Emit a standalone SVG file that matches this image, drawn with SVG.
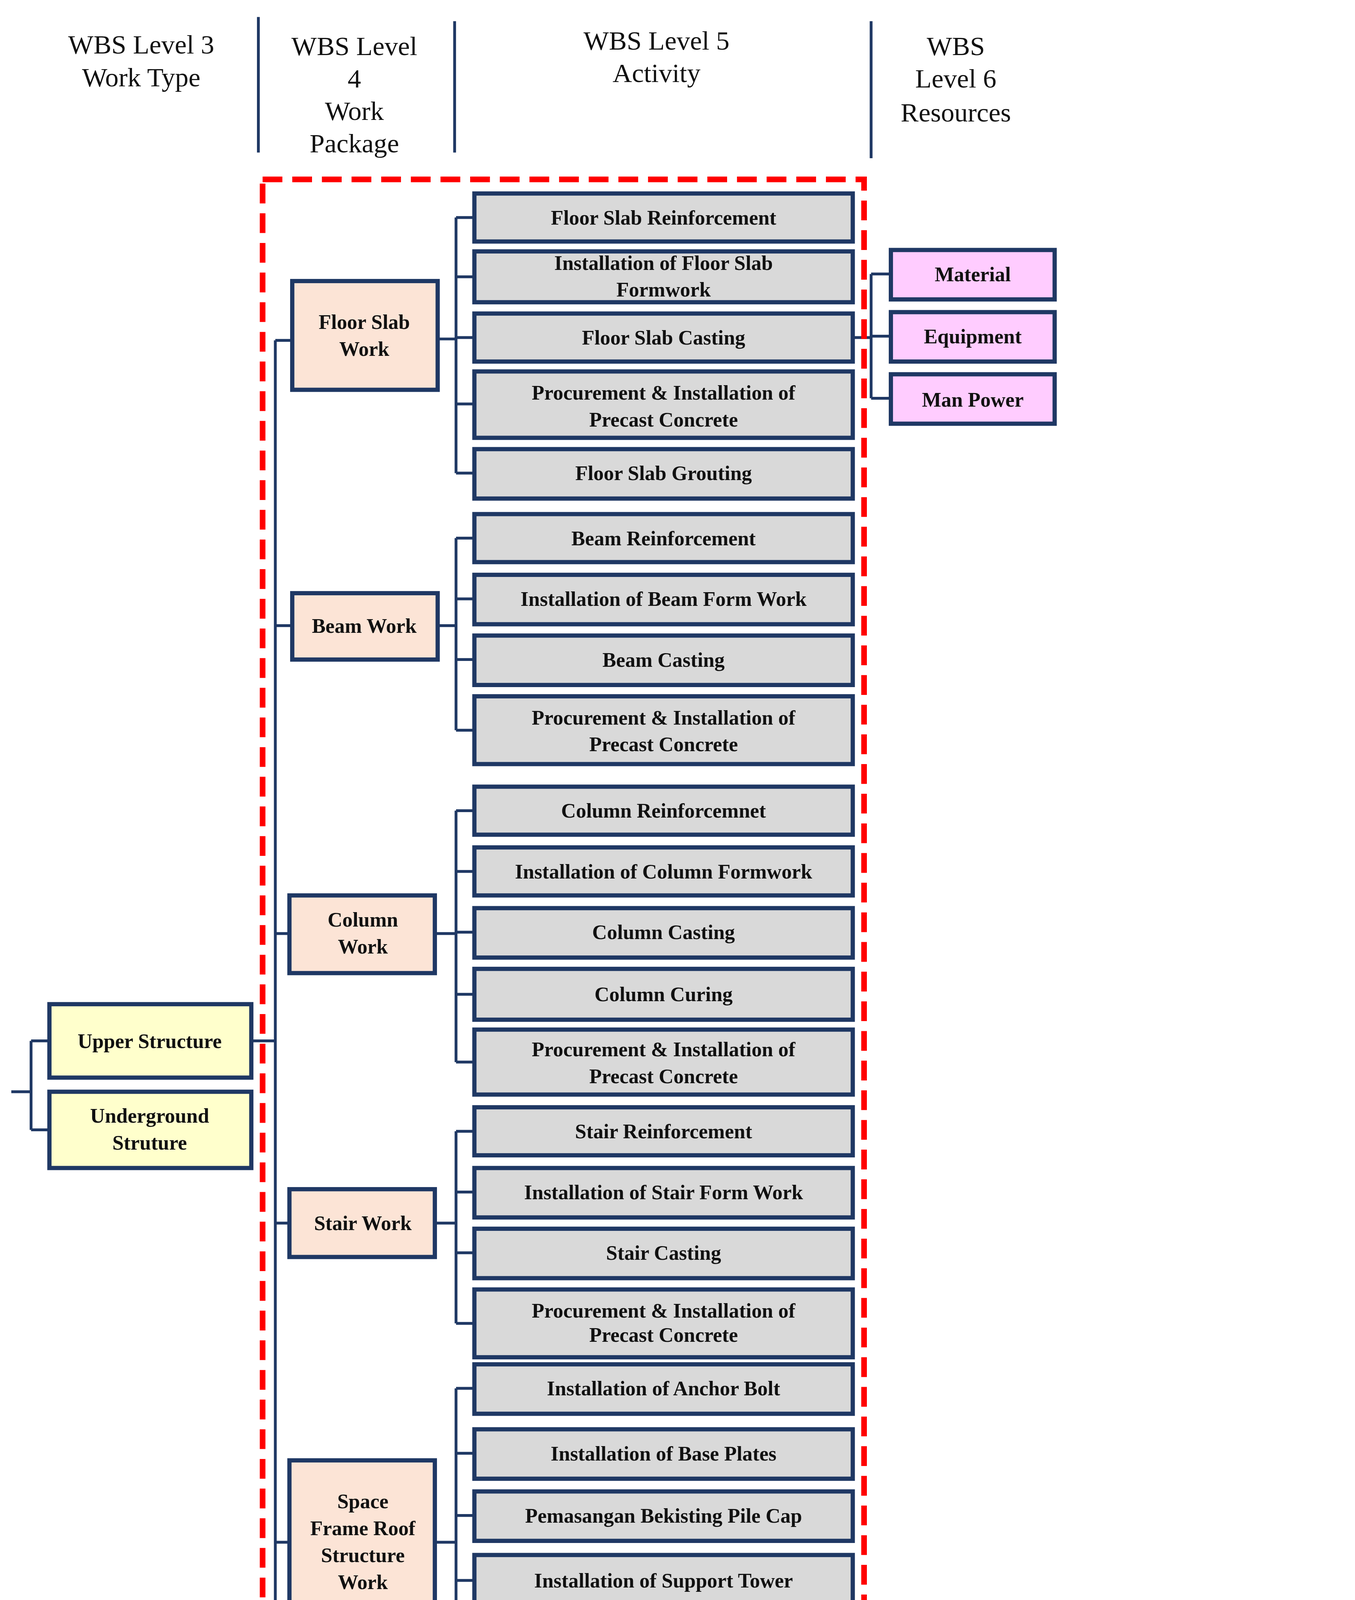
<svg xmlns="http://www.w3.org/2000/svg" width="3470" height="5662" viewBox="0 0 3470 5662">
<defs>
<style>
text{font-family:"Liberation Serif","DejaVu Serif",serif;font-weight:bold;fill:#111;text-anchor:middle}
.h{font-size:19px;font-weight:normal}
.t{font-size:14.5px}
.lg{font-size:13.5px;text-anchor:start}
.b{stroke:#1f3864;stroke-width:3}
.l3{fill:#ffffcc}.l4{fill:#fce4d6}.l5{fill:#d9d9d9}.l6{fill:#ffccff}
.c{fill:none;stroke:#1f3864;stroke-width:2}
.red{fill:none;stroke:#ff0000;stroke-width:4;stroke-dasharray:14 7}
</style>
<marker id="ar" viewBox="0 0 10 10" refX="5" refY="5" markerWidth="4" markerHeight="4" orient="auto"><path d="M0,0L10,5L0,10z" fill="#c55a11"/></marker>
</defs>
<rect width="3470" height="5662" fill="#fff"/>
<g transform="scale(3.6156)">
<g id="headers">
<path d="M183,12V108M322,15V108M617,15V112" class="c"/>
<text class="h" x="100" y="38">WBS Level 3</text><text class="h" x="100" y="61">Work Type</text>
<text class="h" x="251" y="39">WBS Level</text><text class="h" x="251" y="62">4</text><text class="h" x="251" y="85">Work</text><text class="h" x="251" y="108">Package</text>
<text class="h" x="465" y="35">WBS Level 5</text><text class="h" x="465" y="58">Activity</text>
<text class="h" x="677" y="39">WBS</text><text class="h" x="677" y="62">Level 6</text><text class="h" x="677" y="86">Resources</text>
</g>
<g id="connectors">
<path class="c" d="M8,773H22M22,737V800M22,737H35M22,800H35M178,737H195M195,241V1293M195,241H207M195,443H207M195,661H205M195,866H205M195,1092H205M195,1293H205"/>
<path class="c" d="M310,240H323M323,154V335M323,154H336M323,196H336M323,239H336M323,286H336M323,335H336"/>
<path class="c" d="M310,443H323M323,381V517M323,381H336M323,424H336M323,467H336M323,517H336"/>
<path class="c" d="M308,661H323M323,574V752M323,574H336M323,617H336M323,660H336M323,704H336M323,752H336"/>
<path class="c" d="M308,866H323M323,801V937M323,801H336M323,844H336M323,887H336M323,937H336"/>
<path class="c" d="M308,1092H323M323,983V1205M323,983H336M323,1029H336M323,1073H336M323,1119H336M323,1162H336M323,1205H336"/>
<path class="c" d="M308,1293H323M323,1247V1390M323,1247H336M323,1293H336M323,1340H336M323,1390H336"/>
<path class="c" d="M604,239H617M617,194V282M617,194H631M617,238H631M617,282H631"/>
<path d="M315,1432V1392" fill="none" stroke="#c55a11" stroke-width="2" stroke-dasharray="5 3" marker-end="url(#ar)"/>
</g>
<rect id="wbs-development-area" class="red" x="186" y="127" width="426" height="1420"/>
<g id="l3-upper"><rect class="b l3" x="35" y="711" width="143" height="52"/><text class="t" x="106" y="742">Upper Structure</text></g>
<g id="l3-under"><rect class="b l3" x="35" y="773" width="143" height="54"/><text class="t" x="106" y="795">Underground</text><text class="t" x="106" y="814">Struture</text></g>
<g id="l4-floor"><rect class="b l4" x="207" y="199" width="103" height="77"/><text class="t" x="258" y="233">Floor Slab</text><text class="t" x="258" y="252">Work</text></g>
<g id="l4-beam"><rect class="b l4" x="207" y="420" width="103" height="47"/><text class="t" x="258" y="448">Beam Work</text></g>
<g id="l4-column"><rect class="b l4" x="205" y="634" width="103" height="55"/><text class="t" x="257" y="656">Column</text><text class="t" x="257" y="675">Work</text></g>
<g id="l4-stair"><rect class="b l4" x="205" y="842" width="103" height="48"/><text class="t" x="257" y="871">Stair Work</text></g>
<g id="l4-space"><rect class="b l4" x="205" y="1034" width="103" height="118"/><text class="t" x="257" y="1068">Space</text><text class="t" x="257" y="1087">Frame Roof</text><text class="t" x="257" y="1106">Structure</text><text class="t" x="257" y="1125">Work</text></g>
<g id="l4-roof"><rect class="b l4" x="205" y="1252" width="103" height="83"/><text class="t" x="257" y="1279">Roof</text><text class="t" x="257" y="1298">Covering</text><text class="t" x="257" y="1317">Work</text></g>
<g id="l5">
<g id="a1"><rect class="b l5" x="336" y="137" width="268" height="34"/><text class="t" x="470" y="159">Floor Slab Reinforcement</text></g>
<g id="a2"><rect class="b l5" x="336" y="178" width="268" height="36"/><text class="t" x="470" y="191">Installation of Floor Slab</text><text class="t" x="470" y="210">Formwork</text></g>
<g id="a3"><rect class="b l5" x="336" y="222" width="268" height="34"/><text class="t" x="470" y="244">Floor Slab Casting</text></g>
<g id="a4"><rect class="b l5" x="336" y="263" width="268" height="47"/><text class="t" x="470" y="283">Procurement &amp; Installation of</text><text class="t" x="470" y="302">Precast Concrete</text></g>
<g id="a5"><rect class="b l5" x="336" y="318" width="268" height="35"/><text class="t" x="470" y="340">Floor Slab Grouting</text></g>
<g id="b1"><rect class="b l5" x="336" y="364" width="268" height="34"/><text class="t" x="470" y="386">Beam Reinforcement</text></g>
<g id="b2"><rect class="b l5" x="336" y="407" width="268" height="35"/><text class="t" x="470" y="429">Installation of Beam Form Work</text></g>
<g id="b3"><rect class="b l5" x="336" y="450" width="268" height="35"/><text class="t" x="470" y="472">Beam Casting</text></g>
<g id="b4"><rect class="b l5" x="336" y="493" width="268" height="48"/><text class="t" x="470" y="513">Procurement &amp; Installation of</text><text class="t" x="470" y="532">Precast Concrete</text></g>
<g id="c1"><rect class="b l5" x="336" y="557" width="268" height="34"/><text class="t" x="470" y="579">Column Reinforcemnet</text></g>
<g id="c2"><rect class="b l5" x="336" y="600" width="268" height="34"/><text class="t" x="470" y="622">Installation of Column Formwork</text></g>
<g id="c3"><rect class="b l5" x="336" y="643" width="268" height="35"/><text class="t" x="470" y="665">Column Casting</text></g>
<g id="c4"><rect class="b l5" x="336" y="686" width="268" height="36"/><text class="t" x="470" y="709">Column Curing</text></g>
<g id="c5"><rect class="b l5" x="336" y="729" width="268" height="46"/><text class="t" x="470" y="748">Procurement &amp; Installation of</text><text class="t" x="470" y="767">Precast Concrete</text></g>
<g id="s1"><rect class="b l5" x="336" y="784" width="268" height="34"/><text class="t" x="470" y="806">Stair Reinforcement</text></g>
<g id="s2"><rect class="b l5" x="336" y="827" width="268" height="35"/><text class="t" x="470" y="849">Installation of Stair Form Work</text></g>
<g id="s3"><rect class="b l5" x="336" y="870" width="268" height="35"/><text class="t" x="470" y="892">Stair Casting</text></g>
<g id="s4"><rect class="b l5" x="336" y="913" width="268" height="48"/><text class="t" x="470" y="933">Procurement &amp; Installation of</text><text class="t" x="470" y="950">Precast Concrete</text></g>
<g id="f1"><rect class="b l5" x="336" y="966" width="268" height="35"/><text class="t" x="470" y="988">Installation of Anchor Bolt</text></g>
<g id="f2"><rect class="b l5" x="336" y="1012" width="268" height="35"/><text class="t" x="470" y="1034">Installation of Base Plates</text></g>
<g id="f3"><rect class="b l5" x="336" y="1056" width="268" height="35"/><text class="t" x="470" y="1078">Pemasangan Bekisting Pile Cap</text></g>
<g id="f4"><rect class="b l5" x="336" y="1101" width="268" height="36"/><text class="t" x="470" y="1124">Installation of Support Tower</text></g>
<g id="f5"><rect class="b l5" x="336" y="1145" width="268" height="35"/><text class="t" x="470" y="1167">Assembling of The Space Frame</text></g>
<g id="f6"><rect class="b l5" x="336" y="1188" width="268" height="35"/><text class="t" x="470" y="1210">Erection of The Space Frame</text></g>
<g id="r1"><rect class="b l5" x="336" y="1230" width="268" height="34"/><text class="t" x="470" y="1251">Intallation of Primary Purlins</text></g>
<g id="r2"><rect class="b l5" x="336" y="1276" width="268" height="35"/><text class="t" x="470" y="1298">Installation of Secondary Purlins</text></g>
<g id="r3"><rect class="b l5" x="336" y="1319" width="268" height="43"/><text class="t" x="470" y="1335">Installation of Zincalume Metal</text><text class="t" x="470" y="1354">Sheet Roofing</text></g>
<g id="r4"><rect class="b l5" x="336" y="1369" width="268" height="42"/><text class="t" x="470" y="1384">Installation of Zincalume Sheet</text><text class="t" x="470" y="1403">Flashing</text></g>
</g>
<g id="l6-material"><rect class="b l6" x="631" y="177" width="116" height="35"/><text class="t" x="689" y="199">Material</text></g>
<g id="l6-equipment"><rect class="b l6" x="631" y="221" width="116" height="35"/><text class="t" x="689" y="243">Equipment</text></g>
<g id="l6-manpower"><rect class="b l6" x="631" y="265" width="116" height="35"/><text class="t" x="689" y="288">Man Power</text></g>
<g id="alt"><rect x="242" y="1432" width="149" height="48" fill="#fff2cc" stroke="#c55a11" stroke-width="2.5"/><text class="t" x="316" y="1450">Alternatif Method</text><text class="t" x="316" y="1469">/ Design</text></g>
<g id="wbsdev"><rect x="437" y="1480" width="171" height="48" fill="#ffffcc" stroke="#ff0000" stroke-width="4" stroke-dasharray="14 7"/><text class="t" x="521" y="1507">WBS Development</text></g>
<g id="legend">
<rect x="649" y="1306" width="296" height="245" fill="#fff" stroke="#1f3864" stroke-width="2.5"/>
<text class="lg" x="657" y="1320">Legend :</text>
<rect class="b l3" x="657" y="1335" width="60" height="34"/><text class="lg" x="728" y="1356">= WBS Level 3 (Work Type)</text>
<rect class="b l4" x="657" y="1381" width="60" height="33"/><text class="lg" x="728" y="1401">= WBS Level 4 (Work Package)</text>
<rect class="b l5" x="657" y="1424" width="60" height="34"/><text class="lg" x="728" y="1445">= WBS Level 5 (Activity)</text>
<rect class="b l6" x="657" y="1468" width="60" height="35"/><text class="lg" x="728" y="1489">= WBS Level 6 (Resources)</text>
<rect x="657" y="1511" width="60" height="34" fill="none" stroke="#ff0000" stroke-width="2.5" stroke-dasharray="8 5"/><text class="lg" x="728" y="1531">= WBS Development</text>
</g>
</g>
</svg>
